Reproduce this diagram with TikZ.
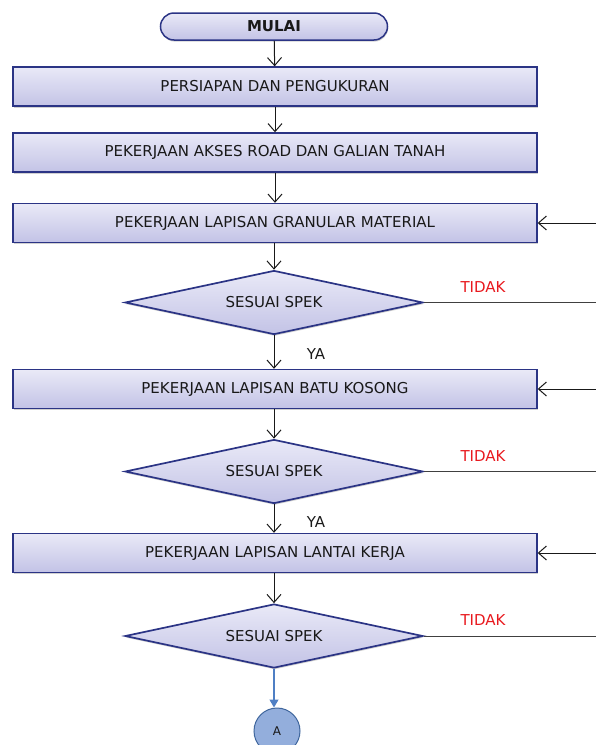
\documentclass[tikz,border=0pt]{standalone}
\usepackage{fontspec}
\setmainfont{DejaVu Sans}
\usetikzlibrary{arrows.meta,shapes.geometric,shadows}

\definecolor{navy}{HTML}{2B3485}
\definecolor{lavtop}{HTML}{E9E9F7}
\definecolor{lavbot}{HTML}{C3C3E6}
\definecolor{tidakred}{HTML}{E8191E}
\definecolor{conblue}{HTML}{4F7FC4}
\definecolor{confill}{HTML}{93AEDC}

\begin{document}
\begin{tikzpicture}[x=1pt,y=-1pt,
  every node/.style={font=\fontsize{15}{17}\selectfont, text=black!90},
  softshadow/.style={drop shadow={shadow xshift=0.6pt, shadow yshift=-1.6pt, opacity=0.3, fill=black!60}},
  procbox/.style={draw=navy, line width=1.4pt, top color=lavtop, bottom color=lavbot,
    minimum width=524pt, minimum height=39pt, inner sep=0pt, softshadow},
  startpill/.style={draw=navy, line width=1.5pt, top color=lavtop, bottom color=lavbot,
    rounded corners=13.5pt, minimum width=227pt, minimum height=27pt, inner sep=0pt,
    font=\fontsize{15}{17}\selectfont\bfseries, softshadow},
  decision/.style={diamond, aspect=4.6, draw=navy, line width=1.7pt, top color=lavtop, bottom color=lavbot,
    minimum width=298pt, minimum height=64pt, inner sep=0pt, softshadow},
  connector/.style={circle, draw=conblue!80!black, line width=1pt, fill=confill,
    minimum size=46pt, inner sep=0pt, font=\fontsize{12}{14}\selectfont},
  flow/.style={draw=black!90, line width=1pt, -{Straight Barb[length=8pt,width=14pt,line width=1pt]}},
  noline/.style={draw=black!75, line width=1pt},
  bluearrow/.style={draw=conblue, line width=1.3pt, -{Triangle[length=8pt,width=9pt]}},
  nolabel/.style={text=tidakred},
  yalabel/.style={text=black!90}
]
\useasboundingbox (0,0) rectangle (595,745);

% main column
\node[startpill] (start) at (274,26.5) {MULAI};
\node[procbox] (b1) at (275,86.5) {PERSIAPAN DAN PENGUKURAN};
\node[procbox] (b2) at (275,152.5) {PEKERJAAN AKSES ROAD DAN GALIAN TANAH};
\node[procbox] (b3) at (275,223) {PEKERJAAN LAPISAN GRANULAR MATERIAL};
\node[decision] (d1) at (274,302.5) {SESUAI SPEK};
\node[procbox] (b4) at (275,389) {PEKERJAAN LAPISAN BATU KOSONG};
\node[decision] (d2) at (274,471.5) {SESUAI SPEK};
\node[procbox] (b5) at (275,553) {PEKERJAAN LAPISAN LANTAI KERJA};
\node[decision] (d3) at (274,636) {SESUAI SPEK};
\node[connector] (ca) at (277,731) {A};

% downward flow
\draw[flow] (start) -- (b1);
\draw[flow] (b1) -- (b2);
\draw[flow] (b2) -- (b3);
\draw[flow] (b3.south -| d1.north) -- (d1.north);
\draw[flow] (d1.south) -- (b4.north -| d1.south);
\draw[flow] (b4.south -| d2.north) -- (d2.north);
\draw[flow] (d2.south) -- (b5.north -| d2.south);
\draw[flow] (b5.south -| d3.north) -- (d3.north);
\draw[bluearrow] (d3.south) -- (ca.north -| d3.south);

% YA labels
\node[yalabel] (ya1) at (316,354) {YA};
\node[yalabel] (ya2) at (316,522) {YA};

% TIDAK branches running off to the right
\coordinate (t1) at (600,302.5);
\coordinate (t2) at (600,471.5);
\coordinate (t3) at (600,636);
\draw[noline] (d1.east) -- (t1);
\draw[noline] (d2.east) -- (t2);
\draw[noline] (d3.east) -- (t3);
\node[nolabel] (no1) at (483,287) {TIDAK};
\node[nolabel] (no2) at (483,456) {TIDAK};
\node[nolabel] (no3) at (483,620) {TIDAK};

% loop-back arrows entering from the right
\coordinate (r3) at (600,223);
\coordinate (r4) at (600,389);
\coordinate (r5) at (600,553);
\draw[flow] (r3) -- (b3.east);
\draw[flow] (r4) -- (b4.east);
\draw[flow] (r5) -- (b5.east);
\end{tikzpicture}
\end{document}
